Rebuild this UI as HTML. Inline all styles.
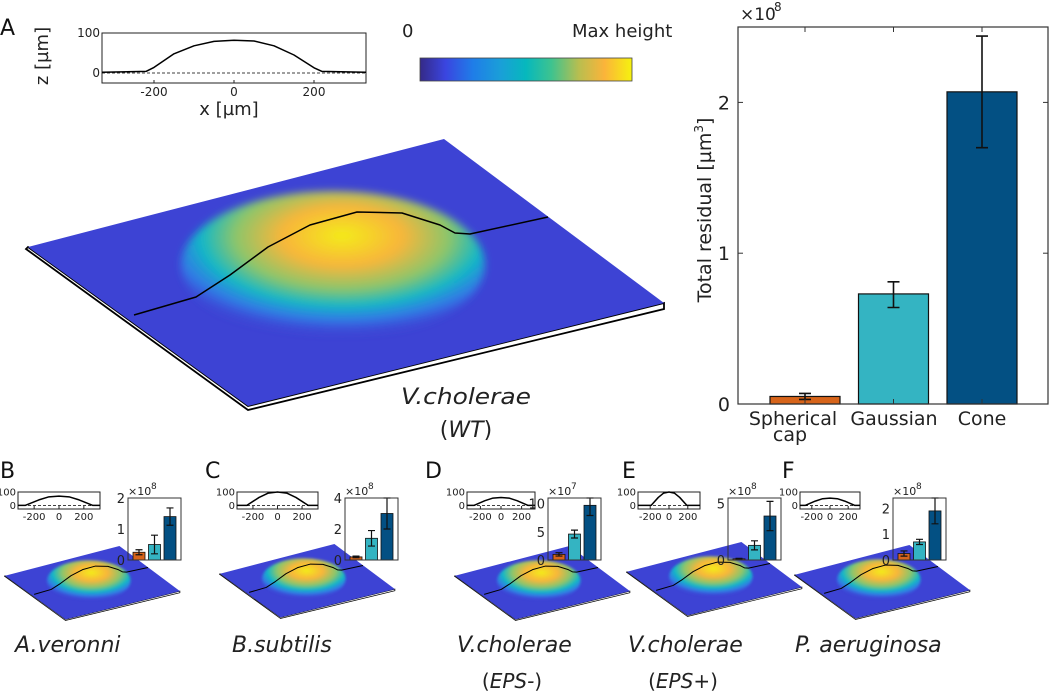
<!DOCTYPE html>
<html><head><meta charset="utf-8"><style>
body{margin:0;background:#fff;width:1050px;height:693px;overflow:hidden}
svg{display:block;font-family:"DejaVu Sans","Liberation Sans",sans-serif}
</style></head><body>
<svg id="fig" width="1050" height="693" viewBox="0 0 1050 693">
<defs>
<linearGradient id="parula" x1="0" x2="1" y1="0" y2="0">
<stop offset="0" stop-color="#352a87"/><stop offset="0.12" stop-color="#3a45e0"/><stop offset="0.25" stop-color="#1f7de8"/><stop offset="0.38" stop-color="#1a9fd8"/><stop offset="0.5" stop-color="#06b8bd"/><stop offset="0.62" stop-color="#3ec38f"/><stop offset="0.75" stop-color="#b9be4f"/><stop offset="0.87" stop-color="#fbb43a"/><stop offset="1" stop-color="#f5f20f"/>
</linearGradient>
<radialGradient id="dome" cx="0.53" cy="0.32" r="0.7" fx="0.53" fy="0.3">
<stop offset="0" stop-color="#f3ec1a"/><stop offset="0.28" stop-color="#f8b63a"/><stop offset="0.5" stop-color="#8dc56a"/><stop offset="0.66" stop-color="#12b8c6"/><stop offset="0.8" stop-color="#2f86ea" stop-opacity="0.8"/><stop offset="0.95" stop-color="#3c46d6" stop-opacity="0"/>
</radialGradient>
<filter id="soft" x="-20%" y="-20%" width="140%" height="140%"><feGaussianBlur stdDeviation="4"/></filter>
<filter id="softs" x="-20%" y="-20%" width="140%" height="140%"><feGaussianBlur stdDeviation="1.2"/></filter>
</defs>
<g id="root"></g>
</svg>
<script>
// main bar chart data
const mainCats = ["Spherical", "Gaussian", "Cone"];
const mainVals = [0.05, 0.73, 2.07];
const mainErrLo = [0.03, 0.64, 1.70];
const mainErrHi = [0.07, 0.81, 2.44];
const mainTicks = [0, 1, 2];
const barColors = ["#d7641a", "#34b4c2", "#035083"];
// main profile (x µm, z µm)
const profX = [-330, -220, -200, -150, -100, -50, 0, 50, 100, 150, 200, 220, 330];
const profZ = [2, 4, 14, 48, 68, 79, 82, 80, 68, 45, 13, 4, 2];
// small panels
const panelNames = ["A.veronni", "B.subtilis", "V.cholerae", "V.cholerae", "P. aeruginosa"];
const panelSub = ["", "", "EPS-", "EPS+", ""];
const panelLetters = ["B", "C", "D", "E", "F"];
const panelExp = ["8", "8", "7", "8", "8"];
const panelYMax = [2, 4, 11, 5.5, 2.4];
const panelTicks = [[0,1,2],[0,2,4],[0,5,10],[0,5],[0,1,2]];
const panelVals = [[0.25,0.5,1.4],[0.2,1.4,3.0],[1.0,4.6,9.7],[0.1,1.3,3.9],[0.25,0.7,1.9]];
const panelErr = [[0.08,0.3,0.28],[0.05,0.5,1.0],[0.3,0.7,1.8],[0.05,0.4,1.3],[0.1,0.1,0.5]];
const panelPeak = [70, 100, 60, 100, 55];
const panelHalfW = [270, 250, 260, 190, 270];

const NS = "http://www.w3.org/2000/svg";
const root = document.getElementById("root");
function el(tag, attrs, parent, text) {
  const e = document.createElementNS(NS, tag);
  for (const k in attrs) e.setAttribute(k, attrs[k]);
  if (text !== undefined) e.textContent = text;
  (parent || root).appendChild(e);
  return e;
}

// ---------- 3D surface ----------
function surface(g, ox, oy, s, line) {
  const T = (x, y) => (ox + (x - 28) * s) + "," + (oy + (y - 139) * s);
  el("polygon", {points: [T(28,247),T(248,406),T(664,303),T(664,309),T(248,410),T(26,249)].join(" "), fill: "#fff", stroke: "#000", "stroke-width": 1.5*s+0.3}, g);
  el("polygon", {points: [T(28,247),T(444,139),T(664,303),T(248,406)].join(" "), fill: "#3d43d4"}, g);
  el("ellipse", {cx: ox+(333-28)*s, cy: oy+(265-139)*s, rx: 152*s, ry: 74*s, fill: "url(#dome)", filter: s < 0.5 ? "url(#softs)" : "url(#soft)"}, g);
  const pts = line.map(p => T(p[0], p[1])).join(" ");
  el("polyline", {points: pts, fill: "none", stroke: "#000", "stroke-width": s < 0.5 ? 1 : 1.5, "stroke-linejoin": "round"}, g);
}
const mainLine = [[134,315],[196,297],[230,275],[268,247],[310,225],[357,212],[402,213],[440,225],[455,233],[470,234],[548,217]];
const gA = el("g", {});


surface(gA, 28, 139, 1, mainLine);

// ---------- profile inset ----------
function profile(g, x0, y0, w, h, xs, zs, fs) {
  const xm = v => x0 + (v + 330) / 660 * w;
  const zm = v => y0 + h - (v + 25) / 125 * h;
  el("rect", {x: x0, y: y0, width: w, height: h, fill: "#fff", stroke: "#222", "stroke-width": 1}, g);
  el("line", {x1: x0, x2: x0 + w, y1: zm(0), y2: zm(0), stroke: "#000", "stroke-dasharray": "3,2", "stroke-width": 0.8}, g);
  el("polyline", {points: xs.map((x, i) => xm(x) + "," + zm(zs[i])).join(" "), fill: "none", stroke: "#000", "stroke-width": 1.5, "stroke-linejoin": "round"}, g);
  [-200, 0, 200].forEach(t => {
    const l = el("text", {x: xm(t), y: y0 + h + fs + 1, "font-size": fs, "text-anchor": "middle", fill: "#222"}, g, t);
    
    
    el("line", {x1: xm(t), x2: xm(t), y1: y0 + h, y2: y0 + h - 3, stroke: "#222"}, g);
  });
  [0, 100].forEach(t => {
    const l = el("text", {x: x0 - 2, y: zm(t) + fs * 0.35, "font-size": fs, "text-anchor": "end", fill: "#222"}, g, t);
    
    
  });
}
const gP = el("g", {});


profile(gP, 102, 33, 264, 50, profX, profZ, 12);
const xl = el("text", {x: 229, y: 115, "font-size": 18, "text-anchor": "middle", fill: "#222"}, gP, "x [µm]");


const zl = el("text", {x: 0, y: 0, "font-size": 18, "text-anchor": "middle", fill: "#222", transform: "translate(48,56) rotate(-90)"}, gP, "z [µm]");



// colorbar
const cb = el("rect", {x: 420, y: 58, width: 212, height: 23, fill: "url(#parula)", stroke: "#444", "stroke-width": 0.8});


const c0 = el("text", {x: 402, y: 37, "font-size": 18, fill: "#222"}, root, "0");


const cm = el("text", {x: 572, y: 37, "font-size": 18, fill: "#222"}, root, "Max height");


const la = el("text", {x: 0, y: 35, "font-size": 22, fill: "#111"}, root, "A");


const wt1 = el("text", {x: 466, y: 404, "font-size": 22, "font-style": "italic", "text-anchor": "middle", fill: "#222", textLength: 130, lengthAdjust: "spacingAndGlyphs"}, root, "V.cholerae");


const wt2 = el("text", {x: 466, y: 437, "font-size": 22, "text-anchor": "middle", fill: "#222"}, root);


el("tspan", {}, wt2, "(");
el("tspan", {"font-style": "italic"}, wt2, "WT");
el("tspan", {}, wt2, ")");

// ---------- main bar chart ----------
const bx0 = 738, bx1 = 1048, by0 = 27, by1 = 404, yMax = 2.5;
const ym = v => by1 - v / yMax * (by1 - by0);
const xc = i => 805 + i * 88.5;
const gB = el("g", {});


mainVals.forEach((v, i) => {
  const r = el("rect", {x: xc(i) - 35, y: ym(v), width: 70, height: by1 - ym(v), fill: barColors[i], stroke: "#111", "stroke-width": 1.2}, gB);
  
  
  const e = el("path", {d: `M${xc(i)},${ym(mainErrLo[i])}V${ym(mainErrHi[i])}M${xc(i)-6},${ym(mainErrLo[i])}h12M${xc(i)-6},${ym(mainErrHi[i])}h12`, stroke: "#111", "stroke-width": 1.6, fill: "none"}, gB);
  
  
  el("line", {x1: xc(i), x2: xc(i), y1: by0, y2: by0 + 5, stroke: "#333"}, gB);
  el("line", {x1: xc(i), x2: xc(i), y1: by1, y2: by1 - 5, stroke: "#333"}, gB);
});
el("rect", {x: bx0, y: by0, width: bx1 - bx0, height: by1 - by0, fill: "none", stroke: "#333", "stroke-width": 1.2}, gB);
mainTicks.forEach(t => {
  const l = el("text", {x: bx0 - 8, y: ym(t) + 7, "font-size": 19, "text-anchor": "end", fill: "#222"}, gB, t);
  
  
  el("line", {x1: bx0, x2: bx0 + 5, y1: ym(t), y2: ym(t), stroke: "#333"}, gB);
  el("line", {x1: bx1, x2: bx1 - 5, y1: ym(t), y2: ym(t), stroke: "#333"}, gB);
});
const ex = el("text", {x: 740, y: 20, "font-size": 17, fill: "#222"}, gB, "×10");


el("text", {x: 774, y: 11, "font-size": 12, fill: "#222"}, gB, "8");
const catLabels = ["Spherical", "Gaussian", "Cone"];
[793, 894, 982].forEach((x, i) => {
  const l = el("text", {x: x, y: 425, "font-size": 19, "text-anchor": "middle", fill: "#222"}, gB, catLabels[i]);
  
  
});
el("text", {x: 790, y: 441, "font-size": 19, "text-anchor": "middle", fill: "#222"}, gB, "cap");
const yt = el("text", {x: 0, y: 0, "font-size": 19, "text-anchor": "middle", fill: "#222", transform: "translate(711,210) rotate(-90)"}, gB);


el("tspan", {}, yt, "Total residual [µm");
el("tspan", {"font-size": 12, dy: -8}, yt, "3");
el("tspan", {dy: 8}, yt, "]");

// ---------- small panels ----------
const panelLetterX = [0, 205, 425, 622, 782];
const profBoxX = [18, 237, 467, 638, 800];
const profBoxW = [82, 81, 68, 62, 60];
const barBoxX = [128, 345, 548, 728, 893];
const surfO = [[5, 546], [220, 544], [455, 546], [627, 542], [795, 545]];
const nameX = [15, 232, 457, 628, 795];
panelNames.forEach((nm, p) => {
  const g = el("g", {});
  
  
  surface(g, surfO[p][0], surfO[p][1], 0.275, mainLine);
  // profile
  const hw = panelHalfW[p], pk = panelPeak[p];
  const xs = [-330, -hw, -hw * 0.6, -hw * 0.3, 0, hw * 0.3, hw * 0.6, hw, 330];
  const zs = [2, 2, pk * 0.6, pk * 0.92, pk, pk * 0.92, pk * 0.6, 2, 2];
  profile(g, profBoxX[p], 492, profBoxW[p], 17, xs, zs, 10);
  // bars
  const x0 = barBoxX[p], w = 53, y0 = 498, y1 = 560, ymx = panelYMax[p];
  const yy = v => y1 - v / ymx * (y1 - y0);
  panelVals[p].forEach((v, i) => {
    const cx = x0 + 11 + i * 15.5;
    const r = el("rect", {x: cx - 6, y: yy(v), width: 12, height: y1 - yy(v), fill: barColors[i], stroke: "#111", "stroke-width": 0.8}, g);
    
    
    const lo = v - panelErr[p][i], hi = Math.min(ymx, v + panelErr[p][i]);
    el("path", {d: `M${cx},${yy(lo)}V${yy(hi)}M${cx-3.5},${yy(lo)}h7M${cx-3.5},${yy(hi)}h7`, stroke: "#111", "stroke-width": 1.2, fill: "none"}, g);
  });
  el("rect", {x: x0, y: y0, width: w, height: y1 - y0, fill: "none", stroke: "#333", "stroke-width": 1}, g);
  panelTicks[p].forEach(t => {
    const l = el("text", {x: x0 - 3, y: yy(t) + 5, "font-size": 13, "text-anchor": "end", fill: "#222"}, g, t);
    
    
  });
  el("text", {x: x0, y: 495, "font-size": 11, fill: "#222"}, g, "×10");
  el("text", {x: x0 + 23, y: 489, "font-size": 9, fill: "#222"}, g, panelExp[p]);
  const L = el("text", {x: panelLetterX[p], y: 478, "font-size": 22, fill: "#111"}, g, panelLetters[p]);
  
  
  const t1 = el("text", {x: nameX[p], y: 652, "font-size": 22, "font-style": "italic", fill: "#222"}, g, nm);
  
  
  if (panelSub[p]) {
    const t2 = el("text", {x: nameX[p] + 55, y: 688, "font-size": 20, "text-anchor": "middle", fill: "#222"}, g);
    
    
    el("tspan", {}, t2, "(");
    el("tspan", {"font-style": "italic"}, t2, panelSub[p]);
    el("tspan", {}, t2, ")");
  }
});
</script>
</body></html>
